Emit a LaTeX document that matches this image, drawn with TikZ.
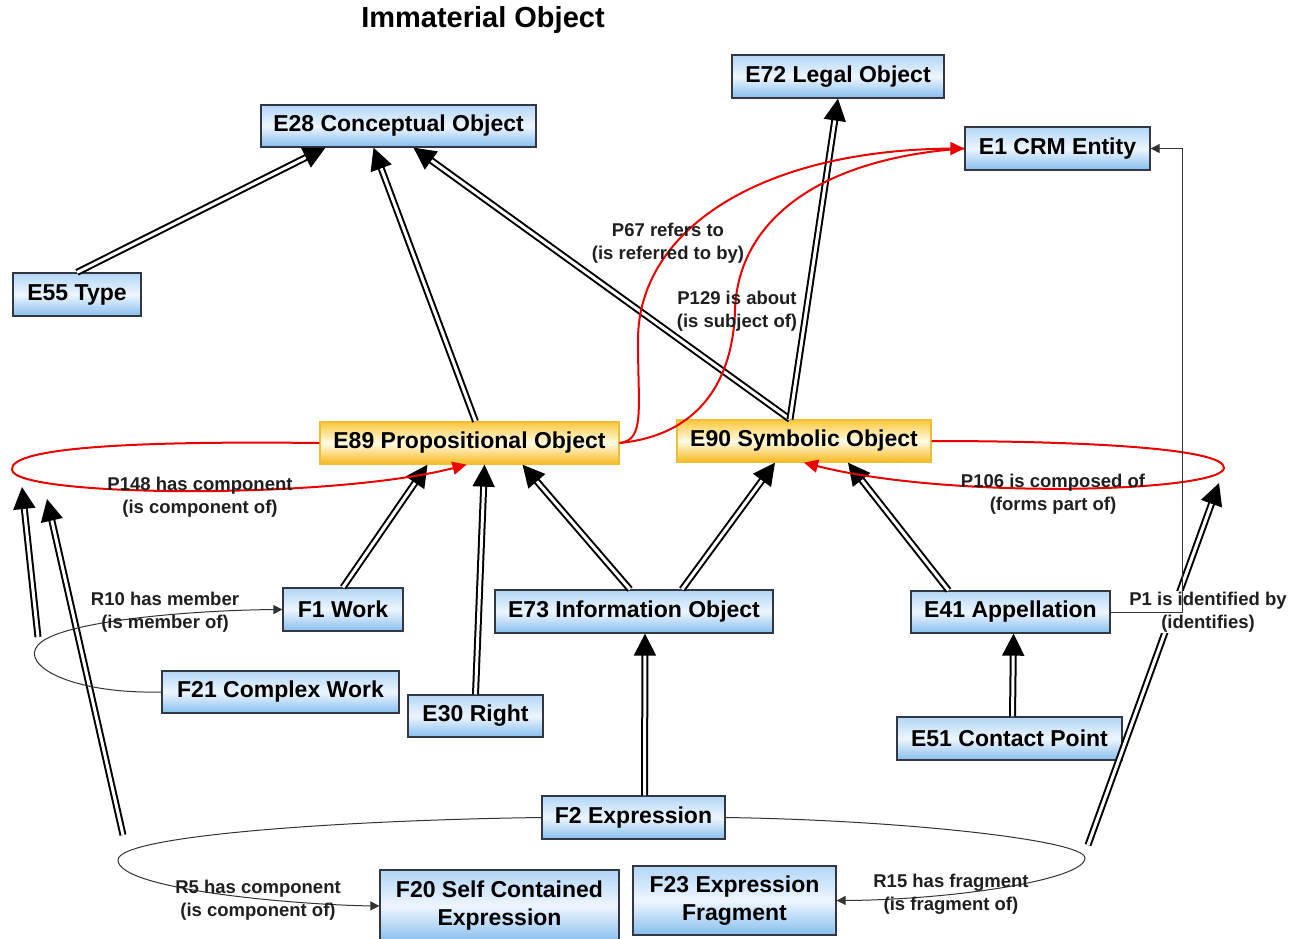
\documentclass[tikz,border=0pt]{standalone}
\usepackage{fontspec}
\setmainfont{Liberation Sans}
\usetikzlibrary{arrows.meta,calc}
\definecolor{bluetop}{RGB}{178,214,246}
\definecolor{bluemid}{RGB}{238,246,254}
\definecolor{bluebot}{RGB}{135,190,238}
\definecolor{ortop}{RGB}{250,200,60}
\definecolor{ormid}{RGB}{255,251,230}
\definecolor{orbot}{RGB}{246,186,30}
\definecolor{orline}{RGB}{240,190,50}
\definecolor{boxline}{RGB}{50,55,65}
\definecolor{redl}{RGB}{235,0,0}
\begin{document}
\begin{tikzpicture}[x=1pt,y=-1pt,
  cls/.style={draw=boxline, line width=1.3pt, top color=bluetop, bottom color=bluebot, middle color=bluemid,
    font=\fontsize{23}{28}\selectfont\bfseries, inner sep=0pt, align=center},
  ocls/.style={cls, draw=orline, top color=ortop, bottom color=orbot, middle color=ormid},
  lbl/.style={font=\fontsize{18.5}{23}\selectfont\bfseries, text=black!88, align=center, inner sep=0pt},
  isa/.style={double=white, double distance=3pt, line width=2pt, -{Triangle[length=22pt,width=22pt]}},
  thinarr/.style={line width=1pt, black!80, -{Triangle[length=9pt,width=9pt]}},
  redarr/.style={redl, line width=2pt, -{Triangle[length=14pt,width=13pt]}},
  redline/.style={redl, line width=2pt}]
\clip (0,0) rectangle (1292,938);
\fill[white] (0,0) rectangle (1292,938);

\node[font=\fontsize{29}{33}\selectfont\bfseries] (title) at (483,20) {Immaterial Object};

% boxes
\node[cls, minimum width=275pt, minimum height=42pt] (E28) at (398.5,126) {E28 Conceptual Object};
\node[cls, minimum width=212pt, minimum height=43pt] (E72) at (838,76.5) {E72 Legal Object};
\node[cls, minimum width=185pt, minimum height=43pt] (E1) at (1057.5,148.5) {E1 CRM Entity};
\node[cls, minimum width=128pt, minimum height=43pt] (E55) at (77,294.5) {E55 Type};
\node[ocls, minimum width=299pt, minimum height=42pt] (E89) at (469.5,443) {E89 Propositional Object};
\node[ocls, minimum width=254pt, minimum height=42pt] (E90) at (804,441) {E90 Symbolic Object};
\node[cls, minimum width=120pt, minimum height=43pt] (F1) at (343,609.5) {F1 Work};
\node[cls, minimum width=237pt, minimum height=42pt] (F21) at (280.5,692) {F21 Complex Work};
\node[cls, minimum width=135pt, minimum height=42pt] (E30) at (475.5,716) {E30 Right};
\node[cls, minimum width=278pt, minimum height=43pt] (E73) at (634,611.5) {E73 Information Object};
\node[cls, minimum width=199pt, minimum height=42pt] (E41) at (1010.5,612) {E41 Appellation};
\node[cls, minimum width=225pt, minimum height=43pt] (E51) at (1009.5,738.5) {E51 Contact Point};
\node[cls, minimum width=183pt, minimum height=43pt] (F2) at (633.5,817.5) {F2 Expression};
\node[cls, minimum width=239pt, minimum height=72pt] (F20) at (499.5,906) {F20 Self Contained\\Expression};
\node[cls, minimum width=203pt, minimum height=69pt] (F23) at (734.5,900.5) {F23 Expression\\Fragment};

% is-a arrows
\draw[isa] (E55.north) -- ([xshift=-73pt]E28.south);
\draw[isa] ([xshift=6pt]E89.north) -- ([xshift=-25pt]E28.south);
\draw[isa] ([xshift=-14pt]E90.north) -- ([xshift=15pt]E28.south);
\draw[isa] ([xshift=-14pt]E90.north) -- (E72.south);
\draw[isa] (F1.north) -- ([xshift=-42pt]E89.south);
\draw[isa] (E30.north) -- ([xshift=15pt]E89.south);
\draw[isa] ([xshift=-4pt]E73.north) -- ([xshift=53pt]E89.south);
\draw[isa] ([xshift=48pt]E73.north) -- ([xshift=-29pt]E90.south);
\draw[isa] ([xshift=-62pt]E41.north) -- ([xshift=44pt]E90.south);
\draw[isa] ([xshift=3pt]E51.north) -- ([xshift=3pt]E41.south);
\draw[isa] ([xshift=11pt]F2.north) -- ([xshift=11pt]E73.south);

% property is-a arrows
\coordinate (a1s) at (38,637);
\coordinate (a1e) at (22,487);
\coordinate (a2s) at (123,835);
\coordinate (a2e) at (47,499);
\coordinate (a3s) at (1088,845);
\coordinate (a3e) at (1219,483);
\draw[isa] (a1s) -- (a1e);
\draw[isa] (a2s) -- (a2e);
\draw[isa] (a3s) -- (a3e);

% red property loops
\draw[redarr] (E89.west) .. controls (150,441) and (8,446) .. (12,470) .. controls (16,497) and (330,500) .. ([xshift=-3pt]E89.south);
\draw[redarr] (E90.east) .. controls (1080,441) and (1225,448) .. (1224,468) .. controls (1222,492) and (950,500) .. (E90.south);
\draw[redline] (E89.east) .. controls (700,435) and (733,380) .. (735,310) .. controls (738,220) and (820,158) .. (E1.west);
\draw[redarr] (E89.east) .. controls (645,440) and (638,410) .. (638,340) .. controls (638,230) and (760,150) .. (E1.west);

% thin property arrows
\draw[thinarr] (F21.west) .. controls (70,694) and (20,665) .. (38,645) .. controls (60,620) and (200,610) .. (F1.west);
\draw[thinarr] (F2.west) .. controls (350,820) and (118,835) .. (118,860) .. controls (118,890) and (300,905) .. (F20.west);
\draw[thinarr] (F2.east) .. controls (900,820) and (1085,840) .. (1085,858) .. controls (1085,880) and (950,900) .. (F23.east);

% labels
\node[lbl] (lP67) at (668,243) {P67 refers to\\(is referred to by)};
\node[lbl] (lP129) at (737,311) {P129 is about\\(is subject of)};
\node[lbl] (lP148) at (200,497) {P148 has component\\(is component of)};
\node[lbl] (lP106) at (1053,494) {P106 is composed of\\(forms part of)};
\node[lbl] (lR10) at (165,612) {R10 has member\\(is member of)};
\node[lbl, fill=white, inner sep=1pt] (lP1) at (1208,612) {P1 is identified by\\(identifies)};
\node[lbl] (lR5) at (258,900) {R5 has component\\(is component of)};
\node[lbl] (lR15) at (951,894) {R15 has fragment\\(is fragment of)};

\coordinate (p1c) at (1182,400);
\draw[thinarr] (E41.east) -- (E41.east -| p1c) -- (E1.east -| p1c) -- (E1.east);
\end{tikzpicture}
\end{document}
